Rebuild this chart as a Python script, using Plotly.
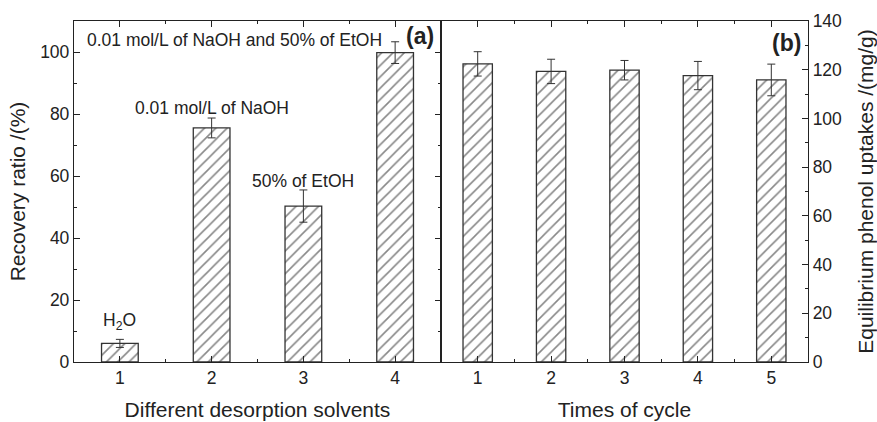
import plotly.graph_objects as go
from plotly.subplots import make_subplots

solvents = [1, 2, 3, 4]
recovery = [6.0, 75.5, 50.3, 99.8]
recovery_err = [1.3, 3.2, 5.2, 3.5]
solvent_labels = ["H<sub>2</sub>O", "0.01 mol/L of NaOH", "50% of EtOH", "0.01 mol/L of NaOH and 50% of EtOH"]

cycles = [1, 2, 3, 4, 5]
uptake = [122.4, 119.3, 119.8, 117.6, 115.8]
uptake_err = [5.0, 5.0, 4.0, 5.8, 6.5]

FONT = "Liberation Sans, Arial, sans-serif"
C = "#222"
fig = make_subplots(rows=1, cols=2, horizontal_spacing=0.0)

pattern = dict(shape="/", size=8, solidity=0.2, fgcolor="#111", bgcolor="white")
for xs, ys, es, col in [(solvents, recovery, recovery_err, 1), (cycles, uptake, uptake_err, 2)]:
    fig.add_trace(go.Bar(x=xs, y=ys, width=0.4,
                         marker=dict(color="white", line=dict(color="#333", width=1.3), pattern=pattern),
                         error_y=dict(type="data", array=es, color="#333", thickness=1, width=4),
                         showlegend=False), row=1, col=col)

axis_common = dict(showline=True, linecolor=C, linewidth=1.3, ticks="inside",
                   ticklen=6, tickcolor=C, showgrid=False, zeroline=False, automargin=False,
                   tickfont=dict(family=FONT, size=17.5, color=C))
title_font = dict(family=FONT, size=21, color=C)
minor_x = dict(ticks="inside", ticklen=3, dtick=0.5, tick0=0.5, tickcolor=C)

fig.update_xaxes(**axis_common, mirror="ticks", range=[0.5, 4.5], tickvals=solvents, minor=minor_x,
                 title=dict(text="Different desorption solvents", font=title_font, standoff=15),
                 row=1, col=1)
fig.update_xaxes(**axis_common, mirror="ticks", range=[0.5, 5.5], tickvals=cycles, minor=minor_x,
                 title=dict(text="Times of cycle", font=title_font, standoff=15),
                 row=1, col=2)
fig.update_yaxes(**axis_common, mirror="ticks", range=[0, 110], tickvals=[0, 20, 40, 60, 80, 100],
                 minor=dict(ticks="inside", ticklen=3, dtick=10, tickcolor=C),
                 title=dict(text="Recovery ratio /(%)", font=title_font, standoff=8),
                 row=1, col=1)
fig.update_yaxes(**axis_common, mirror=True, side="right", range=[0, 140], tickvals=list(range(0, 141, 20)),
                 minor=dict(ticks="inside", ticklen=3, dtick=10, tickcolor=C),
                 title=dict(text="Equilibrium phenol uptakes /(mg/g)", font=title_font, standoff=17),
                 row=1, col=2)

# bar labels (panel a)
label_pos = [(1, 13), (2, 82), (3, 58.5), (2.25, 104)]
for (xv, yv), t in zip(label_pos, solvent_labels):
    fig.add_annotation(x=xv, y=yv, xref="x", yref="y", text=t, showarrow=False,
                       font=dict(family=FONT, size=17.5, color=C))

fig.add_annotation(x=0.5, y=1.0, xref="paper", yref="paper", text="<b>(a)</b>", showarrow=False,
                   xanchor="right", yanchor="top", xshift=-5, font=dict(family=FONT, size=23, color=C))
fig.add_annotation(x=1.0, y=0.98, xref="paper", yref="paper", text="<b>(b)</b>", showarrow=False,
                   xanchor="right", yanchor="top", xshift=-5, font=dict(family=FONT, size=23, color=C))

fig.update_layout(width=877, height=422, margin=dict(l=74, r=69, t=21, b=60),
                  plot_bgcolor="white", paper_bgcolor="white",
                  font=dict(family=FONT, color=C))
fig.write_html("out.html")
